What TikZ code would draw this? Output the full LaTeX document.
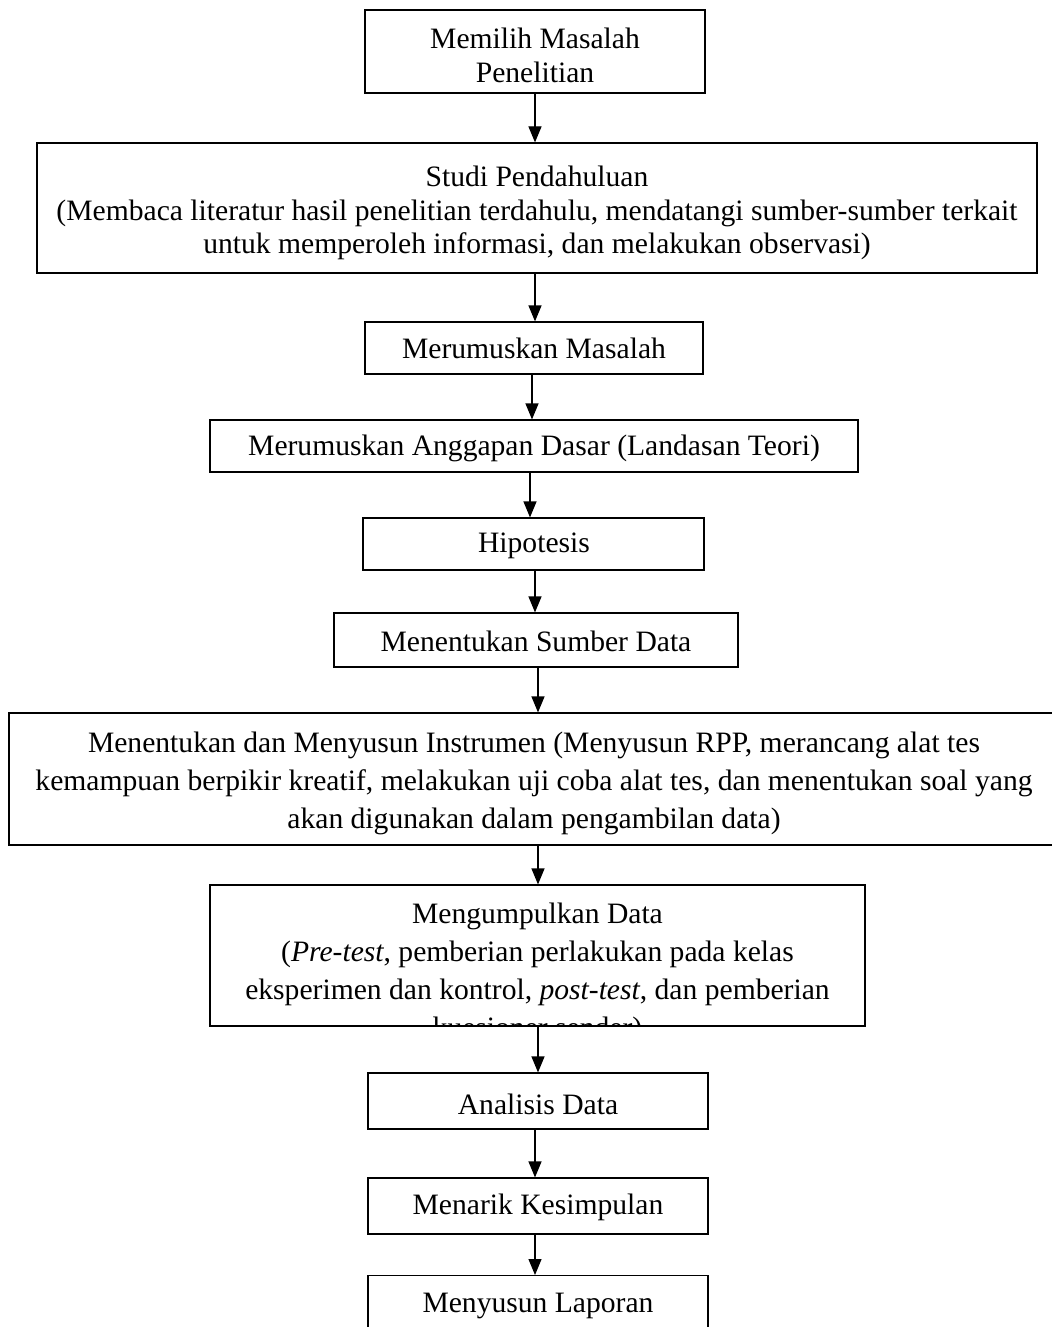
\documentclass[tikz,border=0pt]{standalone}
\usepackage{fontspec}
\setmainfont{Liberation Serif}
\usetikzlibrary{arrows.meta}
\tikzset{
  box/.style={draw, line width=0.6pt, inner sep=0pt},
  txt/.style={inner sep=0pt, align=center, font=\fontsize{14.8}{16.75}\selectfont},
  widetxt/.style={txt, font=\fontsize{14.8}{19}\selectfont},
  flow/.style={line width=0.6pt, -{Triangle[width=6.5pt,length=8pt]}}
}
\begin{document}
\begin{tikzpicture}[x=0.5pt,y=-0.5pt]
\useasboundingbox (0,0) rectangle (1052,1327);
% boxes
\node[box, minimum width=170pt, minimum height=41.5pt] (m1) at (535,51.5) {};
\node[box, minimum width=500pt, minimum height=65pt] (m2) at (537,208) {};
\node[box, minimum width=169pt, minimum height=26pt] (m3) at (534,348) {};
\node[box, minimum width=324pt, minimum height=26pt] (m4) at (534,446) {};
\node[box, minimum width=170.5pt, minimum height=26pt] (m5) at (533.5,544) {};
\node[box, minimum width=202pt, minimum height=27pt] (m6) at (536,640) {};
\node[box, minimum width=525pt, minimum height=66pt] (m7) at (534,779) {};
\node[box, minimum width=327.5pt, minimum height=70.5pt] (m8) at (537.5,955.5) {};
\node[box, minimum width=170pt, minimum height=28pt] (m9) at (538,1101) {};
\node[box, minimum width=170pt, minimum height=28pt] (m10) at (538,1206) {};
\node[box, minimum width=170pt, minimum height=50pt, anchor=north] (m11) at (538,1275) {};
% texts
\node[txt] (t1) at (535,55.5) {Memilih Masalah\\Penelitian};
\node[txt] (t2) at (537,213) {Studi Pendahuluan\\(Membaca literatur hasil penelitian terdahulu, mendatangi sumber-sumber terkait\\untuk memperoleh informasi, dan melakukan observasi)};
\node[txt] (t3) at (534,348) {Merumuskan Masalah};
\node[txt] (t4) at (534,448) {Merumuskan Anggapan Dasar (Landasan Teori)};
\node[txt] (t5) at (534,546) {Hipotesis};
\node[txt] (t6) at (536,641) {Menentukan Sumber Data};
\node[widetxt] (t7) at (534,783) {Menentukan dan Menyusun Instrumen (Menyusun RPP, merancang alat tes\\kemampuan berpikir kreatif, melakukan uji coba alat tes, dan menentukan soal yang\\akan digunakan dalam pengambilan data)};
\begin{scope}
\clip (m8.north west) rectangle (m8.south east);
\node[widetxt] (t8) at (537.5,973.5) {Mengumpulkan Data\\(\textit{Pre-test}, pemberian perlakukan pada kelas\\eksperimen dan kontrol, \textit{post-test}, dan pemberian\\kuesioner sender)};
\end{scope}
\node[txt] (t9) at (538,1104) {Analisis Data};
\node[txt] (t10) at (538,1207) {Menarik Kesimpulan};
\node[txt] (t11) at (538,1306) {Menyusun Laporan};
% connectors
\draw[flow] (m1.south -| 535,0) -- (m2.north -| 535,0);
\draw[flow] (m2.south -| 535,0) -- (m3.north -| 535,0);
\draw[flow] (m3.south -| 532,0) -- (m4.north -| 532,0);
\draw[flow] (m4.south -| 530,0) -- (m5.north -| 530,0);
\draw[flow] (m5.south -| 535,0) -- (m6.north -| 535,0);
\draw[flow] (m6.south -| 538,0) -- (m7.north -| 538,0);
\draw[flow] (m7.south -| 538,0) -- (m8.north -| 538,0);
\draw[flow] (m8.south -| 538,0) -- (m9.north -| 538,0);
\draw[flow] (m9.south -| 535,0) -- (m10.north -| 535,0);
\draw[flow] (m10.south -| 535,0) -- (m11.north -| 535,0);
\end{tikzpicture}
\end{document}
